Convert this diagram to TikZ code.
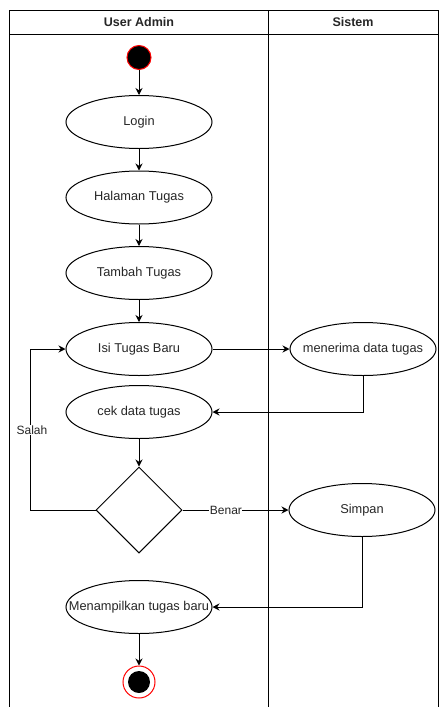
\documentclass[tikz,border=0pt]{standalone}
\usepackage{fontspec}
\setmainfont{Liberation Sans}
\usetikzlibrary{shapes.geometric,arrows.meta}
% zero-width text so every activity keeps the same ellipse size
\newcommand\actlabel[1]{\makebox[0pt][c]{#1}}
\begin{document}
\begin{tikzpicture}[x=1pt,y=-1pt,
  line width=1pt,
  act/.style={draw, ellipse, minimum width=146pt, minimum height=53pt, inner sep=0pt,
              font=\fontsize{12.8}{15}\selectfont, text=black!85},
  decide/.style={draw, diamond, minimum width=86pt, minimum height=86pt, inner sep=0pt},
  flow/.style={draw, -{Stealth[length=7pt,width=7pt]}},
  lbl/.style={fill=white, inner sep=0.5pt, font=\fontsize{12}{14}\selectfont, text=black!85},
  head/.style={font=\bfseries\fontsize{12.5}{15}\selectfont, text=black!85},
  startdot/.style={circle, draw=red, fill=black, minimum size=24pt, inner sep=0pt},
  endring/.style={circle, draw=red, fill=white, minimum size=32pt, inner sep=0pt}]
\useasboundingbox (0,0) rectangle (439,707);

% swimlane frame
\draw (9.5,707) -- (9.5,10) -- (438.5,10) -- (438.5,707);
\draw (9.5,34) -- (438.5,34);
\draw (268,10) -- (268,707);
\node[head] (laneA) at (139,22) {User Admin};
\node[head] (laneB) at (353,22) {Sistem};

% activities
\node[startdot] (start) at (139,57.5) {};
\node[act] (login) at (139,122) {\actlabel{Login}};
\node[act] (halaman) at (139,197.5) {\actlabel{Halaman Tugas}};
\node[act] (tambah) at (139,273) {\actlabel{Tambah Tugas}};
\node[act] (isi) at (139,349) {\actlabel{Isi Tugas Baru}};
\node[act] (terima) at (363,349) {\actlabel{menerima data tugas}};
\node[act] (cek) at (139,412) {\actlabel{cek data tugas}};
\node[decide] (dia) at (139,510) {};
\node[act] (simpan) at (362,510) {\actlabel{Simpan}};
\node[act] (tampil) at (139,607) {\actlabel{Menampilkan tugas baru}};
\node[endring] (stop) at (139,682) {};
\fill (stop.center) circle (11pt);

% flows
\draw[flow] (start) -- (login);
\draw[flow] (login) -- (halaman);
\draw[flow] (halaman) -- (tambah);
\draw[flow] (tambah) -- (isi);
\draw[flow] (isi) -- (terima);
\draw[flow] (terima.south) |- (cek.east);
\draw[flow] (cek) -- (dia);
\draw[flow] (dia.west) -- ++(-65,0) coordinate (loopc) |- (isi.west);
\node[lbl] (salah) at (32,430) {Salah};
\draw[flow] (dia.east) -- node[lbl, pos=0.41] (benar) {Benar} (simpan.west);
\draw[flow] (simpan.south) |- (tampil.east);
\draw[flow] (tampil) -- (stop);
\end{tikzpicture}
\end{document}
